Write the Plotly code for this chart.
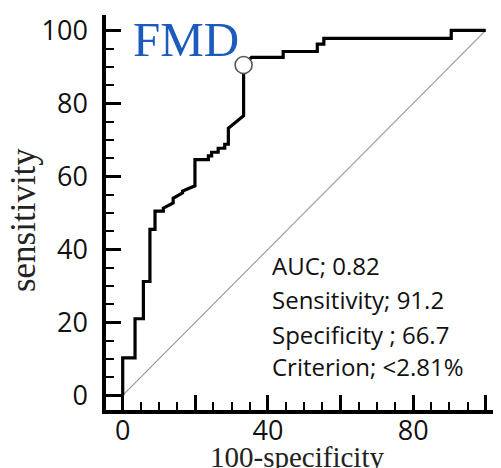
import plotly.graph_objects as go

# ROC curve vertices (100-specificity, sensitivity)
roc_fpr = [0, 0, 3.4, 3.4, 5.7, 5.7, 7.5, 7.5, 8.9, 8.9, 11.2, 11.2, 13.9, 13.9,
           16.5, 16.5, 19.9, 19.9, 23.6, 23.6, 24.5, 24.5, 26.3, 26.3, 28.1, 28.1,
           29.1, 29.1, 33.3, 33.3, 35.5, 44.2, 44.2, 53.6, 53.6, 55.4, 55.4,
           90.5, 90.5, 100]
roc_tpr = [0, 10.3, 10.3, 21.0, 21.0, 31.2, 31.2, 45.5, 45.5, 50.5, 50.5, 51.3, 52.7, 54.0,
           55.5, 56.0, 57.4, 64.6, 64.6, 65.6, 65.6, 66.6, 66.6, 67.7, 67.7, 68.8,
           68.8, 73.2, 76.6, 90.5, 92.6, 92.6, 94.2, 94.2, 96.2, 96.2, 97.8,
           97.8, 100, 100]

ref_x = [0, 100]
ref_y = [0, 100]

cut_x = [33.3]
cut_y = [90.5]

x_range = [-4.6, 104.2]
y_range = [-4.0, 104.2]

major_step = 20
minor_step = 5
x_hidden_labels = {"20": " ", "60": " ", "100": " "}

stats_lines = ["AUC; 0.82", "Sensitivity; 91.2", "Specificity ; 66.7", "Criterion; <2.81%"]
stats_y = [35.5, 26.2, 16.6, 7.8]

fig = go.Figure()
fig.add_trace(go.Scatter(x=ref_x, y=ref_y, mode="lines",
                         line=dict(color="#9a9a9a", width=1.2), hoverinfo="skip"))
fig.add_trace(go.Scatter(x=roc_fpr, y=roc_tpr, mode="lines",
                         line=dict(color="black", width=3.2)))
fig.add_trace(go.Scatter(x=cut_x, y=cut_y, mode="markers",
                         marker=dict(size=17, color="white",
                                     line=dict(color="#555555", width=1.6))))

tickfont = dict(family="Open Sans", size=27, color="#111111")

axis_common = dict(showgrid=False, zeroline=False,
                   showline=True, linecolor="black", linewidth=3.5,
                   tickmode="linear", tick0=0, dtick=major_step,
                   ticks="inside", ticklen=15, tickwidth=2.5,
                   tickcolor="black", tickfont=tickfont, automargin=False,
                   minor=dict(ticks="inside", ticklen=8, tickwidth=2,
                              tickcolor="black", tick0=0, dtick=minor_step,
                              showgrid=False))

fig.update_layout(
    width=493, height=460,
    margin=dict(l=98, r=0, t=7, b=58, autoexpand=False),
    paper_bgcolor="white", plot_bgcolor="white",
    showlegend=False,
    xaxis=dict(range=x_range, labelalias=x_hidden_labels,
               ticklabelstandoff=-6, **axis_common),
    yaxis=dict(range=y_range, ticklabelstandoff=9, **axis_common),
)

# FMD title
fig.add_annotation(text="FMD", x=2.4, y=1.012, xref="x", yref="paper",
                   xanchor="left", yanchor="top", showarrow=False,
                   font=dict(family="Liberation Serif", size=49, color="#1c5bbd"))

for txt, yy in zip(stats_lines, stats_y):
    fig.add_annotation(text=txt, x=40.5, y=yy, xref="x", yref="y",
                       xanchor="left", yanchor="middle", showarrow=False,
                       font=dict(family="Open Sans", size=24, color="#111111"))

fig.add_annotation(text="sensitivity", x=-0.21, y=0.481, xref="paper", yref="paper",
                   textangle=-90, xanchor="center", yanchor="middle", showarrow=False,
                   font=dict(family="Liberation Serif", size=35, color="#222222"))
fig.add_annotation(text="100-specificity", x=47.9, y=-0.12, xref="x", yref="paper",
                   xanchor="center", yanchor="middle", showarrow=False,
                   font=dict(family="Liberation Serif", size=29, color="#222222"))

fig.write_html("out.html")
